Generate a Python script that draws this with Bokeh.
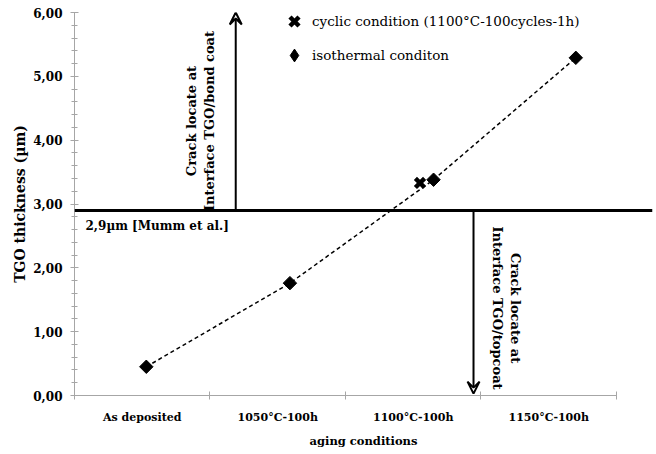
import math
from bokeh.plotting import figure
from bokeh.models import (ColumnDataSource, Span, Arrow, VeeHead, Label,
                          FixedTicker, SingleIntervalTicker, Legend, LegendItem, Range1d)
from bokeh.embed import file_html
from bokeh.resources import INLINE

# ---- data ----
categories = ["As deposited", "1050°C-100h", "1100°C-100h", "1150°C-100h"]
category_centers = [0.5, 1.5, 2.5, 3.5]
category_bounds = [0, 1, 2, 3, 4]
iso_x = [0.53, 1.59, 2.65, 3.70]
iso_values = [0.45, 1.76, 3.38, 5.29]
cyc_x = [2.55]
cyc_values = [3.33]
mumm_value = 2.9
y_ticks = [0, 1, 2, 3, 4, 5, 6]
y_tick_labels = ["0,00", "1,00", "2,00", "3,00", "4,00", "5,00", "6,00"]

FONT = "DejaVu Serif"
AXIS_GRAY = "#a6a6a6"

p = figure(width=654, height=451, output_backend="svg", toolbar_location=None,
           x_range=Range1d(0, 4.266), y_range=Range1d(0, 6),
           min_border_left=74, min_border_right=2, min_border_top=12, min_border_bottom=56)
p.outline_line_color = None
p.xgrid.visible = False
p.ygrid.visible = False
p.background_fill_color = "white"

# y axis
ya = p.yaxis[0]
ya.ticker = SingleIntervalTicker(interval=1, num_minor_ticks=5)
ya.major_label_overrides = {t: l for t, l in zip(y_ticks, y_tick_labels)}
ya.bounds = (0, 6)
ya.axis_line_color = AXIS_GRAY
ya.major_tick_line_color = AXIS_GRAY
ya.minor_tick_line_color = AXIS_GRAY
ya.major_tick_in = 4
ya.major_tick_out = 4
ya.minor_tick_in = 3
ya.minor_tick_out = 3
ya.major_label_text_font = FONT
ya.major_label_text_font_style = "bold"
ya.major_label_text_font_size = "12px"
ya.major_label_text_color = "black"
ya.major_label_standoff = 8
ya.axis_label = "TGO thickness (µm)"
ya.axis_label_text_font = FONT
ya.axis_label_text_font_style = "bold"
ya.axis_label_text_font_size = "14px"
ya.axis_label_text_color = "black"
ya.axis_label_standoff = 2

# x axis: labels at category centres, tick marks (minor) at category boundaries
xa = p.xaxis[0]
xa.ticker = FixedTicker(ticks=category_centers, minor_ticks=category_bounds)
xa.major_label_overrides = {c: n for c, n in zip(category_centers, categories)}
xa.bounds = (0, 4)
xa.axis_line_color = AXIS_GRAY
xa.major_tick_line_color = None
xa.major_tick_in = 0
xa.major_tick_out = 4
xa.minor_tick_line_color = AXIS_GRAY
xa.minor_tick_in = 4
xa.minor_tick_out = 4
xa.major_label_standoff = 11
xa.major_label_text_font = FONT
xa.major_label_text_font_style = "bold"
xa.major_label_text_font_size = "11px"
xa.major_label_text_color = "black"
xa.axis_label = "aging conditions"
xa.axis_label_text_font = FONT
xa.axis_label_text_font_style = "bold"
xa.axis_label_text_font_size = "11.5px"
xa.axis_label_text_color = "black"
xa.axis_label_standoff = 7

# threshold line
p.add_layout(Span(location=mumm_value, dimension="width", line_color="black", line_width=3))

# arrows
p.add_layout(Arrow(x_start=1.19, y_start=mumm_value, x_end=1.19, y_end=6.0,
                   line_width=2, line_color="black",
                   end=VeeHead(size=12, line_width=2, line_color="black", fill_color=None)))
p.add_layout(Arrow(x_start=2.945, y_start=mumm_value, x_end=2.945, y_end=0.03,
                   line_width=2, line_color="black",
                   end=VeeHead(size=12, line_width=2, line_color="black", fill_color=None)))

# data
iso_src = ColumnDataSource(dict(x=iso_x, y=iso_values))
cyc_src = ColumnDataSource(dict(x=cyc_x, y=cyc_values))
p.line("x", "y", source=iso_src, line_color="black", line_width=1.5, line_dash="4 3")
r_iso = p.scatter("x", "y", source=iso_src, marker="square", angle=math.pi / 4, size=9.5,
                  fill_color="black", line_color="black")
r_cyc = p.scatter("x", "y", source=cyc_src, marker="x", size=13, line_width=4.5,
                  line_color="black")
# legend key for the isothermal series: a diamond (legend markers are drawn unrotated),
# zero size on the plot itself so only the legend shows it
r_iso_key = p.scatter("x", "y", source=iso_src, marker="diamond", size=0,
                      fill_color="black", line_color="black", line_width=1)

legend = Legend(items=[LegendItem(label="cyclic condition (1100°C-100cycles-1h)", renderers=[r_cyc]),
                       LegendItem(label="isothermal conditon", renderers=[r_iso_key])],
                location=(204, 324))
legend.border_line_color = None
legend.background_fill_alpha = 0
legend.padding = 0
legend.margin = 0
legend.spacing = 2
legend.glyph_width = 32
legend.glyph_height = 32
legend.label_standoff = 2
legend.label_text_font = FONT
legend.label_text_font_size = "13.5px"
legend.label_text_color = "black"
p.add_layout(legend)

# annotation texts
common = dict(text_font=FONT, text_font_style="bold", text_font_size="13px",
              text_color="black", text_align="center", text_baseline="middle")
p.add_layout(Label(x=11, y=mumm_value, x_units="screen", y_offset=-16,
                   text="2,9µm [Mumm et al.]", **{**common, "text_align": "left",
                                                   "text_font_size": "12px"}))
p.add_layout(Label(x=0.93, y=4.30, text="Crack locate at\nInterface TGO/bond coat",
                   angle=math.pi / 2, **common))
p.add_layout(Label(x=3.19, y=1.37, text="Crack locate at\nInterface TGO/topcoat",
                   angle=-math.pi / 2, **common))

with open("out.html", "w") as f:
    f.write(file_html(p, INLINE))
